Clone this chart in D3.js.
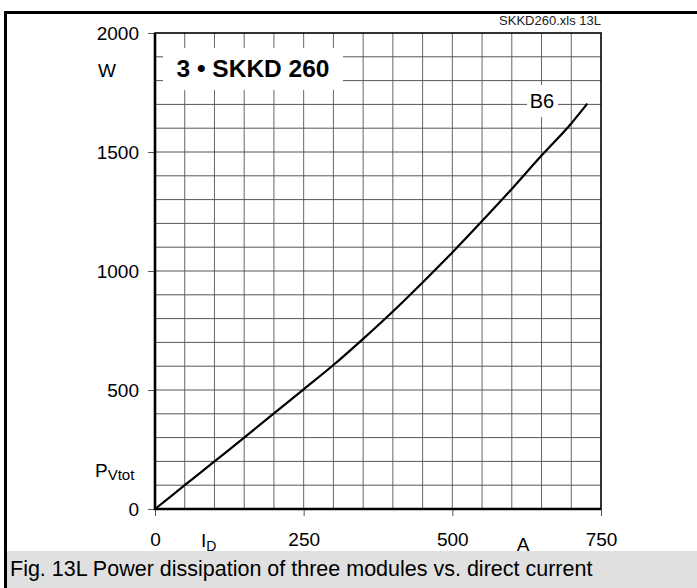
<!DOCTYPE html>
<html>
<head>
<meta charset="utf-8">
<script src="https://cdn.jsdelivr.net/npm/d3@7"></script>
<style>
	body { margin: 0; background: #fff; }
	svg { display: block; font-family: "Liberation Sans", Arial, sans-serif; }
</style>
</head>
<body>
<div id="chart"></div>
<script>
// Curve B6
var currentA = [0, 50, 100, 150, 200, 250, 300, 350, 400, 450, 500, 550, 600, 650, 700, 727];
var powerW = [0, 100, 200, 300, 402, 503, 605, 715, 830, 952, 1078, 1210, 1345, 1485, 1620, 1703];
var xTicks = [0, 250, 500, 750];
var yTicks = [0, 500, 1000, 1500, 2000];
var curveName = "B6";
var titleText = "3 \u2022 SKKD 260";
var fileTag = "SKKD260.xls 13L";
var caption = "Fig. 13L Power dissipation of three modules vs. direct current";

var width = 697,
	height = 588;
var marginLeft = 155,
	marginRight = 96,
	marginTop = 33,
	marginBottom = 79;
var fontFamily = "Liberation Sans, Arial, sans-serif";

var svg = d3.select("#chart").append("svg").attr("width", width).attr("height", height);

var x = d3.scaleLinear().domain([0, 750]).range([marginLeft, width - marginRight]);
var y = d3.scaleLinear().domain([0, 2000]).range([height - marginBottom, marginTop]);

// Grid
svg.append("g")
	.selectAll("line")
	.data(d3.range(50, 750, 50))
	.enter()
	.append("line")
	.attr("x1", (d) => x(d))
	.attr("x2", (d) => x(d))
	.attr("y1", y(2000))
	.attr("y2", y(0))
	.attr("stroke", "#666")
	.attr("stroke-width", 1);
svg.append("g")
	.selectAll("line")
	.data(d3.range(100, 2000, 100))
	.enter()
	.append("line")
	.attr("x1", x(0))
	.attr("x2", x(750))
	.attr("y1", (d) => y(d))
	.attr("y2", (d) => y(d))
	.attr("stroke", "#555")
	.attr("stroke-width", 1);

// Axes
svg.append("g")
	.attr("transform", `translate(${marginLeft}, 0)`)
	.call(d3.axisLeft(y).tickValues(yTicks).tickFormat(d3.format("d")).tickSize(7).tickPadding(9))
	.call((g) => g.select(".domain").remove())
	.call((g) => g.selectAll("text").attr("font-size", 19).attr("fill", "#000").attr("font-family", fontFamily))
	.call((g) => g.selectAll(".tick line").attr("stroke", "#555"));
svg.append("g")
	.attr("transform", `translate(0, ${height - marginBottom})`)
	.call(d3.axisBottom(x).tickValues(xTicks).tickFormat(d3.format("d")).tickSize(7).tickPadding(17))
	.call((g) => g.select(".domain").remove())
	.call((g) => g.selectAll("text").attr("font-size", 19).attr("fill", "#000").attr("font-family", fontFamily))
	.call((g) => g.selectAll(".tick line").attr("stroke", "#555"));

// Plot border: heavier on left and bottom
svg.append("rect")
	.attr("x", x(0))
	.attr("y", y(2000))
	.attr("width", x(750) - x(0))
	.attr("height", y(0) - y(2000))
	.attr("fill", "none")
	.attr("stroke", "#000")
	.attr("stroke-width", 1.6);
svg.append("path")
	.attr("d", `M${x(0)},${y(2000)}V${y(0)}H${x(750)}`)
	.attr("fill", "none")
	.attr("stroke", "#000")
	.attr("stroke-width", 2.6);

// Axis names
svg.append("text").attr("x", 107).attr("y", 77).attr("text-anchor", "middle").attr("font-size", 19).text("W");
var pv = svg.append("text").attr("x", 95).attr("y", 477).attr("font-size", 19);
pv.append("tspan").text("P");
pv.append("tspan").attr("font-size", 15).attr("dy", 3).text("Vtot");
var id = svg.append("text").attr("x", 201).attr("y", 547).attr("font-size", 19);
id.append("tspan").text("I");
id.append("tspan").attr("font-size", 14).attr("dy", 4).text("D");
svg.append("text").attr("x", 523).attr("y", 551).attr("text-anchor", "middle").attr("font-size", 19).text("A");

// Curve
var line = d3
	.line()
	.x((d, i) => x(currentA[i]))
	.y((d) => y(d))
	.curve(d3.curveMonotoneX);
svg.append("path")
	.datum(powerW)
	.attr("d", line)
	.attr("fill", "none")
	.attr("stroke", "#000")
	.attr("stroke-width", 2.2);

// Labels with white boxes that cut the grid
svg.append("rect").attr("x", 163).attr("y", 48).attr("width", 180).attr("height", 42).attr("fill", "#fff");
svg.append("text")
	.attr("x", 253)
	.attr("y", 77)
	.attr("text-anchor", "middle")
	.attr("font-size", 24.5)
	.attr("font-weight", "bold")
	.text(titleText);
svg.append("rect").attr("x", 527).attr("y", 85).attr("width", 31).attr("height", 32).attr("fill", "#fff");
svg.append("text").attr("x", 542).attr("y", 108).attr("text-anchor", "middle").attr("font-size", 20).text(curveName);

// Frame and caption strip (drawn last, it clips the bottom of the axis names)
svg.append("rect").attr("x", 6).attr("y", 551).attr("width", width - 6).attr("height", 37).attr("fill", "#e0e0e0");
svg.append("line").attr("x1", 4).attr("x2", width).attr("y1", 12.5).attr("y2", 12.5).attr("stroke", "#000").attr("stroke-width", 3);
svg.append("line").attr("x1", 5.5).attr("x2", 5.5).attr("y1", 11).attr("y2", height).attr("stroke", "#000").attr("stroke-width", 3);
svg.append("text").attr("x", 10).attr("y", 576).attr("font-size", 21.5).text(caption);
svg.append("text").attr("x", 601).attr("y", 25).attr("text-anchor", "end").attr("font-size", 13).attr("fill", "#222").text(fileTag);
</script>
</body>
</html>
